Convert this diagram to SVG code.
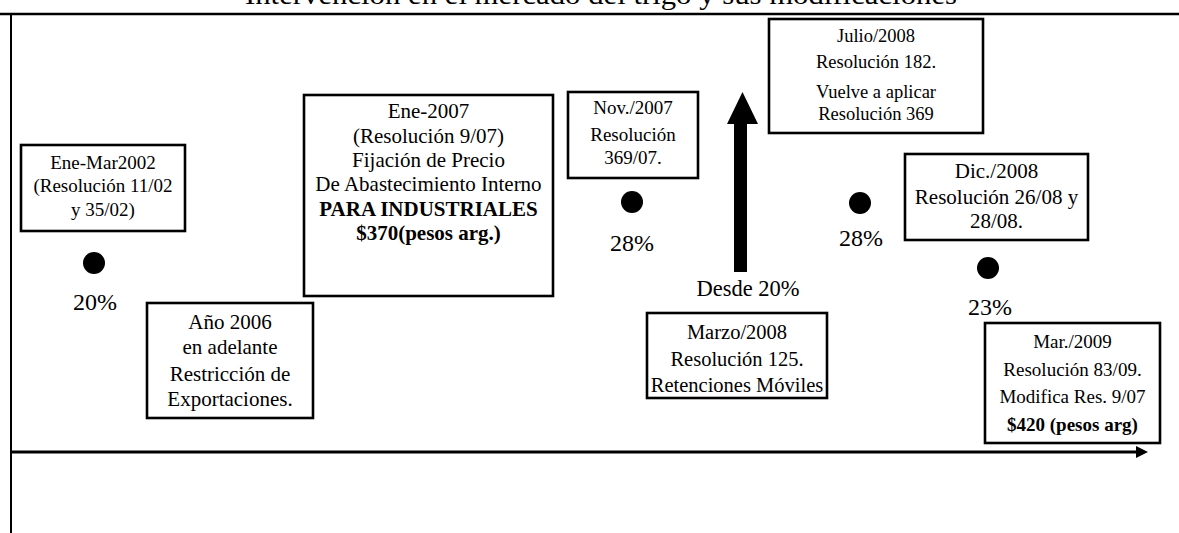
<svg xmlns="http://www.w3.org/2000/svg" width="1179" height="533" viewBox="0 0 1179 533">
<style>
.bx{fill:#fff;stroke:#000;stroke-width:2.6}
.t{font-family:"Liberation Serif","Times New Roman",serif;font-size:19px;fill:#000;text-anchor:middle}
.b{font-weight:bold}
.p{font-family:"Liberation Serif","Times New Roman",serif;font-size:24px;fill:#000;text-anchor:middle}
.dot{fill:#000}
</style>
<rect width="1179" height="533" fill="#fff"/>
<text x="601" y="4" text-anchor="middle" font-family="Liberation Serif, serif" font-size="28" textLength="712" lengthAdjust="spacingAndGlyphs">Intervención en el mercado del trigo y sus modificaciones</text>
<g id="frame" stroke="#000" fill="none">
<line x1="0" y1="14" x2="1179" y2="14" stroke-width="2.5"/>
<line x1="11" y1="14" x2="11" y2="533" stroke-width="2"/>
</g>
<g id="connectors">
<line x1="12" y1="452" x2="1138" y2="452" stroke="#000" stroke-width="3"/>
<polygon points="1148,452 1136,446 1136,458" fill="#000"/>
<path d="M734,272 L734,124 L727,124 L742.5,92 L758,124 L747,124 L747,272 Z" fill="#000"/>
</g>
<g id="n2002">
<rect class="bx" x="21" y="145" width="164" height="86"/>
<text class="t" x="103" y="169">Ene-Mar2002</text>
<text class="t" x="103" y="192">(Resolución 11/02</text>
<text class="t" x="103" y="216">y 35/02)</text>
<circle class="dot" cx="94" cy="263" r="11"/>
<text class="p" x="95" y="310">20%</text>
</g>
<g id="n2006">
<rect class="bx" x="147" y="303" width="166" height="115"/>
<text class="t" style="font-size:21px" x="230" y="329">Año 2006</text>
<text class="t" style="font-size:21px" x="230" y="354">en adelante</text>
<text class="t" style="font-size:21px" x="230" y="381">Restricción de</text>
<text class="t" style="font-size:21px" x="230" y="406">Exportaciones.</text>
</g>
<g id="n2007">
<rect class="bx" x="304" y="95" width="249" height="201"/>
<text class="t" style="font-size:21px" x="428.5" y="118">Ene-2007</text>
<text class="t" style="font-size:21px" x="428.5" y="143">(Resolución 9/07)</text>
<text class="t" style="font-size:21px" x="428.5" y="167">Fijación de Precio</text>
<text class="t" style="font-size:21px" x="428.5" y="191">De Abastecimiento Interno</text>
<text class="t b" style="font-size:21px" x="428.5" y="216">PARA INDUSTRIALES</text>
<text class="t b" style="font-size:21px" x="428.5" y="240">$370(pesos arg.)</text>
</g>
<g id="nNov2007">
<rect class="bx" x="568" y="92" width="130" height="86"/>
<text class="t" x="633" y="114">Nov./2007</text>
<text class="t" x="633" y="141">Resolución</text>
<text class="t" x="633" y="164">369/07.</text>
<circle class="dot" cx="632" cy="202" r="11"/>
<text class="p" x="632" y="251">28%</text>
</g>
<g id="nDesde">
<text class="p" style="font-size:22.5px" x="748" y="296">Desde 20%</text>
</g>
<g id="nJul2008">
<rect class="bx" x="769" y="19" width="214" height="114"/>
<text class="t" style="font-size:18.5px" x="876" y="42">Julio/2008</text>
<text class="t" style="font-size:18.5px" x="876" y="68">Resolución 182.</text>
<text class="t" style="font-size:18.5px" x="876" y="98">Vuelve a aplicar</text>
<text class="t" style="font-size:18.5px" x="876" y="120">Resolución 369</text>
</g>
<g id="nMar2008">
<rect class="bx" x="647" y="313" width="180" height="85"/>
<text class="t" style="font-size:20.5px" x="737" y="339">Marzo/2008</text>
<text class="t" style="font-size:20.5px" x="737" y="366">Resolución 125.</text>
<text class="t" style="font-size:20.5px" x="737" y="392">Retenciones Móviles</text>
</g>
<g id="nDic2008">
<circle class="dot" cx="860" cy="203" r="11"/>
<text class="p" x="861" y="246">28%</text>
<rect class="bx" x="905" y="154" width="183" height="86"/>
<text class="t" style="font-size:21px" x="996.5" y="178">Dic./2008</text>
<text class="t" style="font-size:21px" x="996.5" y="204">Resolución 26/08 y</text>
<text class="t" style="font-size:21px" x="996.5" y="228">28/08.</text>
<circle class="dot" cx="988" cy="268" r="11"/>
<text class="p" x="990" y="315">23%</text>
</g>
<g id="nMar2009">
<rect class="bx" x="985" y="323" width="175" height="120"/>
<text class="t" x="1072.5" y="348">Mar./2009</text>
<text class="t" x="1072.5" y="376">Resolución 83/09.</text>
<text class="t" x="1072.5" y="403">Modifica Res. 9/07</text>
<text class="t b" x="1072.5" y="431">$420 (pesos arg)</text>
</g>
</svg>
